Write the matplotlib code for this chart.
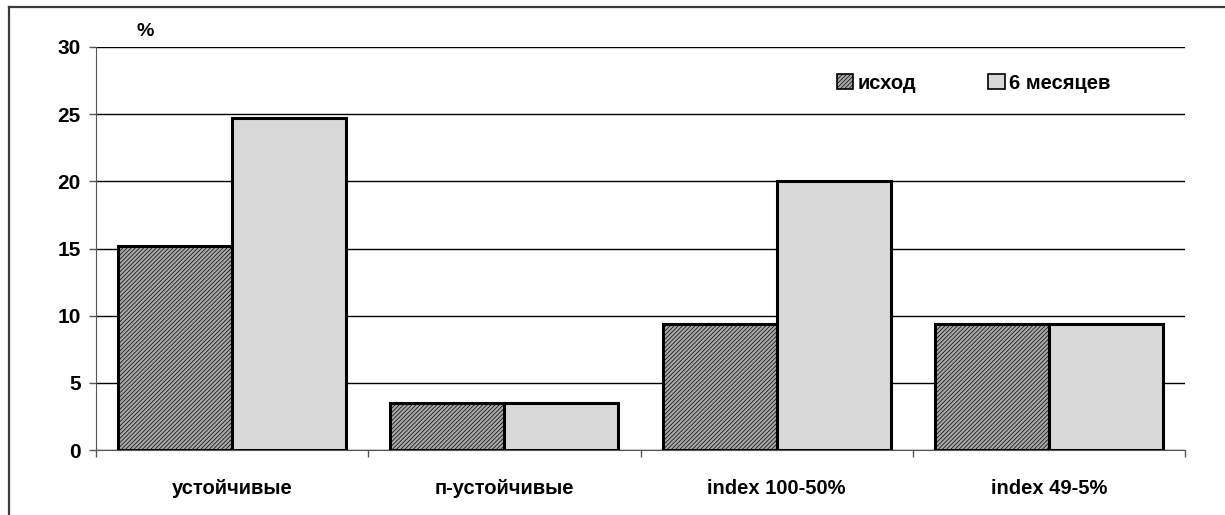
import matplotlib
matplotlib.use('Agg')
import matplotlib.pyplot as plt
import numpy as np

categories = ['устойчивые', 'п-устойчивые', 'index 100-50%', 'index 49-5%']
baseline = [15.2, 3.5, 9.4, 9.4]      # исход
six_months = [24.7, 3.5, 20.0, 9.4]   # 6 месяцев
series_names = ['исход', '6 месяцев']

plt.rcParams['font.family'] = ['Liberation Sans', 'DejaVu Sans']
plt.rcParams['font.weight'] = 'bold'
plt.rcParams['hatch.linewidth'] = 0.5
plt.rcParams['hatch.color'] = '#2a2a2a'

fig = plt.figure(figsize=(12.25, 5.15), dpi=100)
ax = fig.add_axes([96 / 1225, 1 - 450 / 515, (1185 - 96) / 1225, (450 - 47) / 515])

# frame around the whole chart area (only top and left edges fall inside the image)
fig.add_artist(plt.Line2D([9 / 1225, 9 / 1225], [0, 1 - 7 / 515], transform=fig.transFigure,
                          color='#3a3a3a', lw=1.6))
fig.add_artist(plt.Line2D([9 / 1225, 1], [1 - 7 / 515, 1 - 7 / 515], transform=fig.transFigure,
                          color='#3a3a3a', lw=1.6))

x = np.arange(len(categories))
w = 0.419
ax.bar(x - w / 2, baseline, w, facecolor='#a8a8a8', edgecolor='black', hatch='////////',
       linewidth=2.2, label=series_names[0], zorder=3)
ax.bar(x + w / 2, six_months, w, facecolor='#d8d8d8', edgecolor='black',
       linewidth=2.2, label=series_names[1], zorder=3)

ax.set_xlim(-0.5, len(categories) - 0.5)
ax.set_ylim(0, 30)
ax.set_yticks(range(0, 31, 5))
ax.yaxis.grid(True, color='black', linewidth=1.0, zorder=0)
ax.set_axisbelow(True)

ax.set_xticks(x)
ax.set_xticklabels(categories, fontsize=14.5, fontweight='bold')
ax.set_xticks(np.arange(-0.5, len(categories)), minor=True)
ax.tick_params(axis='x', which='major', length=0, pad=21)
ax.tick_params(axis='x', which='minor', length=5, width=1, color='#555555', direction='out')
ax.tick_params(axis='y', length=5, width=1, color='#555555', labelsize=15, pad=6)
for lbl in ax.get_yticklabels():
    lbl.set_fontweight('bold')

for side in ['top', 'right']:
    ax.spines[side].set_visible(False)
ax.spines['left'].set_color('#555555')
ax.spines['bottom'].set_color('#555555')

fig.text(145 / 1225, 1 - 31 / 515, '%', fontsize=14, fontweight='bold', ha='center', va='center')

leg = ax.legend(ncol=2, frameon=False, loc='center left', bbox_to_anchor=(0.664, 0.91),
                handlelength=0.8, handleheight=0.8, handletextpad=0.2, columnspacing=3.6,
                prop={'size': 14.5, 'weight': 'bold'})
for h in leg.legend_handles:
    h.set_linewidth(1.2)

fig.savefig('out.png', dpi=100)
